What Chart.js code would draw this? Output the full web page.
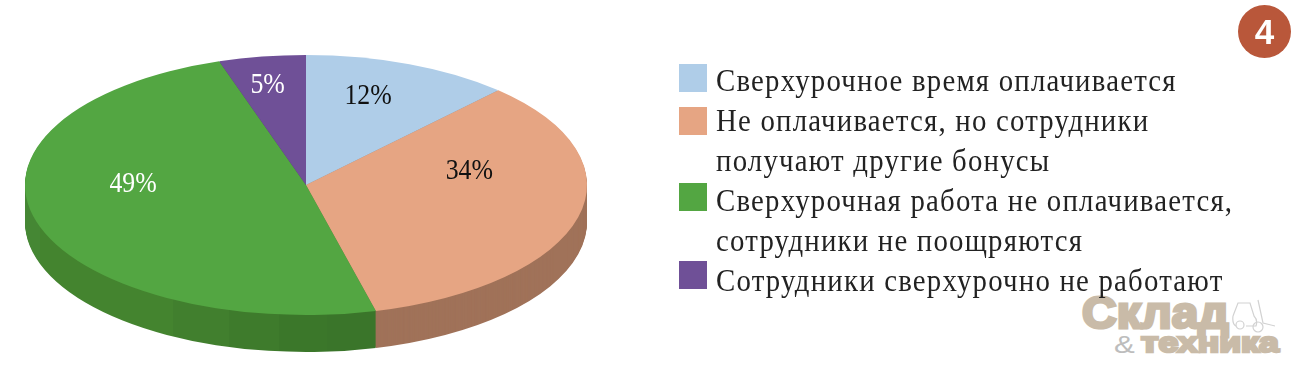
<!DOCTYPE html>
<html lang="ru">
<head>
<meta charset="utf-8">
<title>Сверхурочная работа</title>
<script src="https://cdn.jsdelivr.net/npm/chart.js@4"></script>
<style>
    html, body { margin: 0; padding: 0; background: #fff; }
    #wrap { position: relative; width: 1300px; height: 367px; overflow: hidden; font-family: "Liberation Serif", serif; }
    #pie { position: absolute; left: 0; top: 0; }
    .swatch { position: absolute; left: 679px; width: 28px; height: 28px; }
    .line { position: absolute; left: 716px; height: 40px; line-height: 40px; font-size: 32px; letter-spacing: 1.35px; color: #222; white-space: nowrap; transform: scaleX(0.9); transform-origin: left center; }
    #badge { position: absolute; left: 1238px; top: 5px; width: 53px; height: 53px; border-radius: 50%; background: #b9573a; color: #fff; font: bold 35px/53px "Liberation Sans", sans-serif; text-align: center; }
    .mark { position: absolute; white-space: nowrap; color: #c9bba8; font-family: "Liberation Sans", sans-serif; font-weight: bold; -webkit-text-stroke: 3px #c9bba8; transform-origin: left top; }
</style>
</head>
<body>
<div id="wrap">
    <div class="mark" style="left:1082px;top:288px;font-size:44px;line-height:50px;transform:scaleX(1.09);">Склад</div>
    <div class="mark" style="left:1114px;top:327px;font-size:24px;line-height:36px;font-weight:normal;-webkit-text-stroke:0;color:#bdbdbd;transform:scaleX(1.3);">&amp;</div>
    <div class="mark" style="left:1141px;top:328px;font-size:27px;line-height:30px;transform:scaleX(1.32);-webkit-text-stroke-width:2.5px;">техника</div>
    <svg style="position:absolute;left:1232px;top:298px" width="46" height="38" fill="none" stroke="#d2d2d2" stroke-width="1.2">
        <path d="M1 18 L6 5 H18 L22 18 Q26 22 24 28 H14 M1 18 Q0 26 4 28 M26 2 L31 25 L43 28"/>
        <circle cx="8" cy="27" r="4"/><circle cx="26" cy="29" r="5"/>
    </svg>
    <canvas id="pie" width="1300" height="367"></canvas>
    <div id="badge">4</div>
    <div id="legend"></div>
</div>
<script>
const categories = [
    ['Сверхурочное время оплачивается'],
    ['Не оплачивается, но сотрудники', 'получают другие бонусы'],
    ['Сверхурочная работа не оплачивается,', 'сотрудники не поощряются'],
    ['Сотрудники сверхурочно не работают']
];
const values = [12, 34, 49, 5];
const topColors = ['#afcde8', '#e6a583', '#53a642', '#6f5097'];
const labelColors = ['#111', '#111', '#fff', '#fff'];

// green side is faceted in the original: [right edge x, colour]
const greenFacets = [[40, '#458734'], [173, '#44842f'], [229, '#417f2e'], [279, '#3e7b2c'], [327, '#3b772a'], [379, '#3a752a']];

const stretchX = 281 / 130;
const depth = 37;
// hand placed in the original, so nudge each label off its slice
const labelNudge = [[0, -16], [0, -33], [-11, -23], [-12, -23]];

function greenSide(ctx, cx) {
    const left = 25, right = 379;
    const toLocal = x => cx + (x - cx) / stretchX;
    const g = ctx.createLinearGradient(toLocal(left), 0, toLocal(right), 0);
    let from = 0;
    greenFacets.forEach(([edge, color]) => {
        const to = (edge - left) / (right - left);
        g.addColorStop(from, color);
        g.addColorStop(to, color);
        from = to;
    });
    return g;
}

const tiltedPie = {
    id: 'tiltedPie',
    beforeDatasetsDraw(chart) {
        const ctx = chart.ctx;
        const arcs = chart.getDatasetMeta(0).data;
        const cx = arcs[0].x;
        const sides = ['#7f95a8', '#a07259', greenSide(ctx, cx), '#503a6e'];

        ctx.save();
        ctx.translate(cx, 0);
        ctx.scale(stretchX, 1);
        ctx.translate(-cx, 0);

        // side wall: the same arcs repeated downwards in the darker colours
        for (let d = depth; d > 0; d--) {
            ctx.save();
            ctx.translate(0, d);
            arcs.forEach((arc, i) => {
                const own = arc.options;
                arc.options = Object.assign({}, own, { backgroundColor: sides[i], borderWidth: 0 });
                arc.draw(ctx);
                arc.options = own;
            });
            ctx.restore();
        }
    },
    afterDatasetsDraw(chart) {
        const ctx = chart.ctx;
        ctx.restore();

        chart.getDatasetMeta(0).data.forEach((arc, i) => {
            const mid = (arc.startAngle + arc.endAngle) / 2;
            const r = arc.outerRadius * 0.6;
            const x = arc.x + Math.cos(mid) * r * stretchX + labelNudge[i][0];
            const y = arc.y + Math.sin(mid) * r + labelNudge[i][1];
            ctx.save();
            ctx.translate(x, y);
            ctx.scale(0.86, 1);
            ctx.fillStyle = labelColors[i];
            ctx.font = '30px "Liberation Serif", serif';
            ctx.textAlign = 'center';
            ctx.textBaseline = 'middle';
            ctx.fillText(values[i] + '%', 0, 0);
            ctx.restore();
        });
    }
};

new Chart(document.getElementById('pie').getContext('2d'), {
    type: 'pie',
    data: {
        labels: categories.map(c => c.join(' ')),
        datasets: [{
            data: values,
            backgroundColor: topColors,
            borderWidth: 0,
            clip: false
        }]
    },
    options: {
        responsive: false,
        animation: false,
        layout: { padding: { left: 176, right: 864, top: 55, bottom: 52 } },
        plugins: { legend: { display: false }, tooltip: { enabled: false } }
    },
    plugins: [tiltedPie]
});

// legend sits next to the pie as plain html
const legend = document.getElementById('legend');
const swatchTops = [64, 107, 183, 261];
let row = 0;
categories.forEach((lines, i) => {
    const box = document.createElement('div');
    box.className = 'swatch';
    box.style.top = swatchTops[i] + 'px';
    box.style.background = topColors[i];
    legend.appendChild(box);
    lines.forEach(text => {
        const line = document.createElement('div');
        line.className = 'line';
        line.style.top = (60 + row * 40) + 'px';
        line.textContent = text;
        legend.appendChild(line);
        row++;
    });
});
</script>
</body>
</html>
